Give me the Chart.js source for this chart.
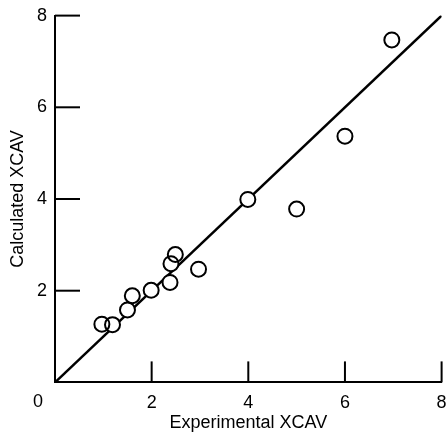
<!DOCTYPE html>
<html>
<head>
<meta charset="utf-8">
<script src="https://cdn.jsdelivr.net/npm/chart.js@4/dist/chart.umd.min.js"></script>
<style>
html,body{margin:0;padding:0;background:#fff;}
#wrap{width:448px;height:434px;position:relative;}
</style>
</head>
<body>
<div id="wrap"><canvas id="c" width="448" height="434"></canvas></div>
<script>
const experimental = [0.97, 1.19, 1.50, 1.60, 1.99, 2.38, 2.40, 2.49, 2.97, 3.99, 5.00, 6.00, 6.97];
const calculated   = [1.27, 1.26, 1.58, 1.89, 2.01, 2.18, 2.59, 2.79, 2.47, 3.99, 3.78, 5.37, 7.47];
const lineX = [0, 8];
const lineY = [0, 8];
const tickValues = [2, 4, 6, 8];
const xTitle = 'Experimental XCAV';
const yTitle = 'Calculated XCAV';

const FONT = "'Liberation Sans', Arial, sans-serif";
const pts = experimental.map((x, i) => ({x: x, y: calculated[i]}));
const linePts = lineX.map((x, i) => ({x: x, y: lineY[i]}));

const tickPlugin = {
  id: 'innerTicks',
  afterDraw(chart) {
    const ctx = chart.ctx, xs = chart.scales.x, ys = chart.scales.y;
    const x0 = xs.getPixelForValue(0), y0 = ys.getPixelForValue(0);
    ctx.save();
    ctx.strokeStyle = '#000';
    ctx.lineWidth = 2;
    tickValues.forEach(v => {
      const py = ys.getPixelForValue(v);
      ctx.beginPath(); ctx.moveTo(x0, py); ctx.lineTo(x0 + 25, py); ctx.stroke();
      const px = xs.getPixelForValue(v);
      ctx.beginPath(); ctx.moveTo(px, y0); ctx.lineTo(px, y0 - 21); ctx.stroke();
    });
    ctx.fillStyle = '#000';
    ctx.font = '18px ' + FONT;
    ctx.textAlign = 'center';
    ctx.textBaseline = 'middle';
    ctx.fillText('0', x0 - 17, 402);
    ctx.restore();
  }
};

new Chart(document.getElementById('c'), {
  type: 'scatter',
  data: {
    datasets: [
      {type: 'line', data: linePts, borderColor: '#000', borderWidth: 2.5, pointRadius: 0, fill: false, order: 3},
      {data: pts, pointRadius: 7.5, pointBackgroundColor: '#fff', pointBorderWidth: 0, pointBorderColor: 'rgba(0,0,0,0)', order: 2},
      {data: pts, pointRadius: 7.5, pointBackgroundColor: 'rgba(0,0,0,0)', pointBorderWidth: 2, pointBorderColor: '#000', order: 1}
    ]
  },
  options: {
    responsive: false,
    animation: false,
    devicePixelRatio: 1,
    layout: {autoPadding: false, padding: {top: 15.6, right: 6.4, left: 0, bottom: 0}},
    plugins: {legend: {display: false}, tooltip: {enabled: false}},
    scales: {
      x: {
        type: 'linear', min: 0, max: 8,
        afterBuildTicks: s => { s.ticks = tickValues.map(v => ({value: v})); },
        grid: {display: false, drawTicks: false},
        border: {display: true, color: '#000', width: 2},
        ticks: {color: '#000', font: {family: FONT, size: 18}, padding: 10, maxRotation: 0},
        title: {display: true, text: xTitle, color: '#000', font: {family: FONT, size: 18}, padding: {top: 0, bottom: 0}},
        afterFit: s => { s.height = 51.6; s.paddingLeft = 0; s.paddingRight = 0; }
      },
      y: {
        type: 'linear', min: 0, max: 8,
        afterBuildTicks: s => { s.ticks = tickValues.map(v => ({value: v})); },
        grid: {display: false, drawTicks: false},
        border: {display: true, color: '#000', width: 2},
        ticks: {color: '#000', font: {family: FONT, size: 18}, padding: 8},
        title: {display: true, text: yTitle, color: '#000', font: {family: FONT, size: 18}, padding: {top: 7, bottom: 0}},
        afterFit: s => { s.width = 55; s.paddingTop = 0; s.paddingBottom = 0; }
      }
    }
  },
  plugins: [tickPlugin]
});
</script>
</body>
</html>
